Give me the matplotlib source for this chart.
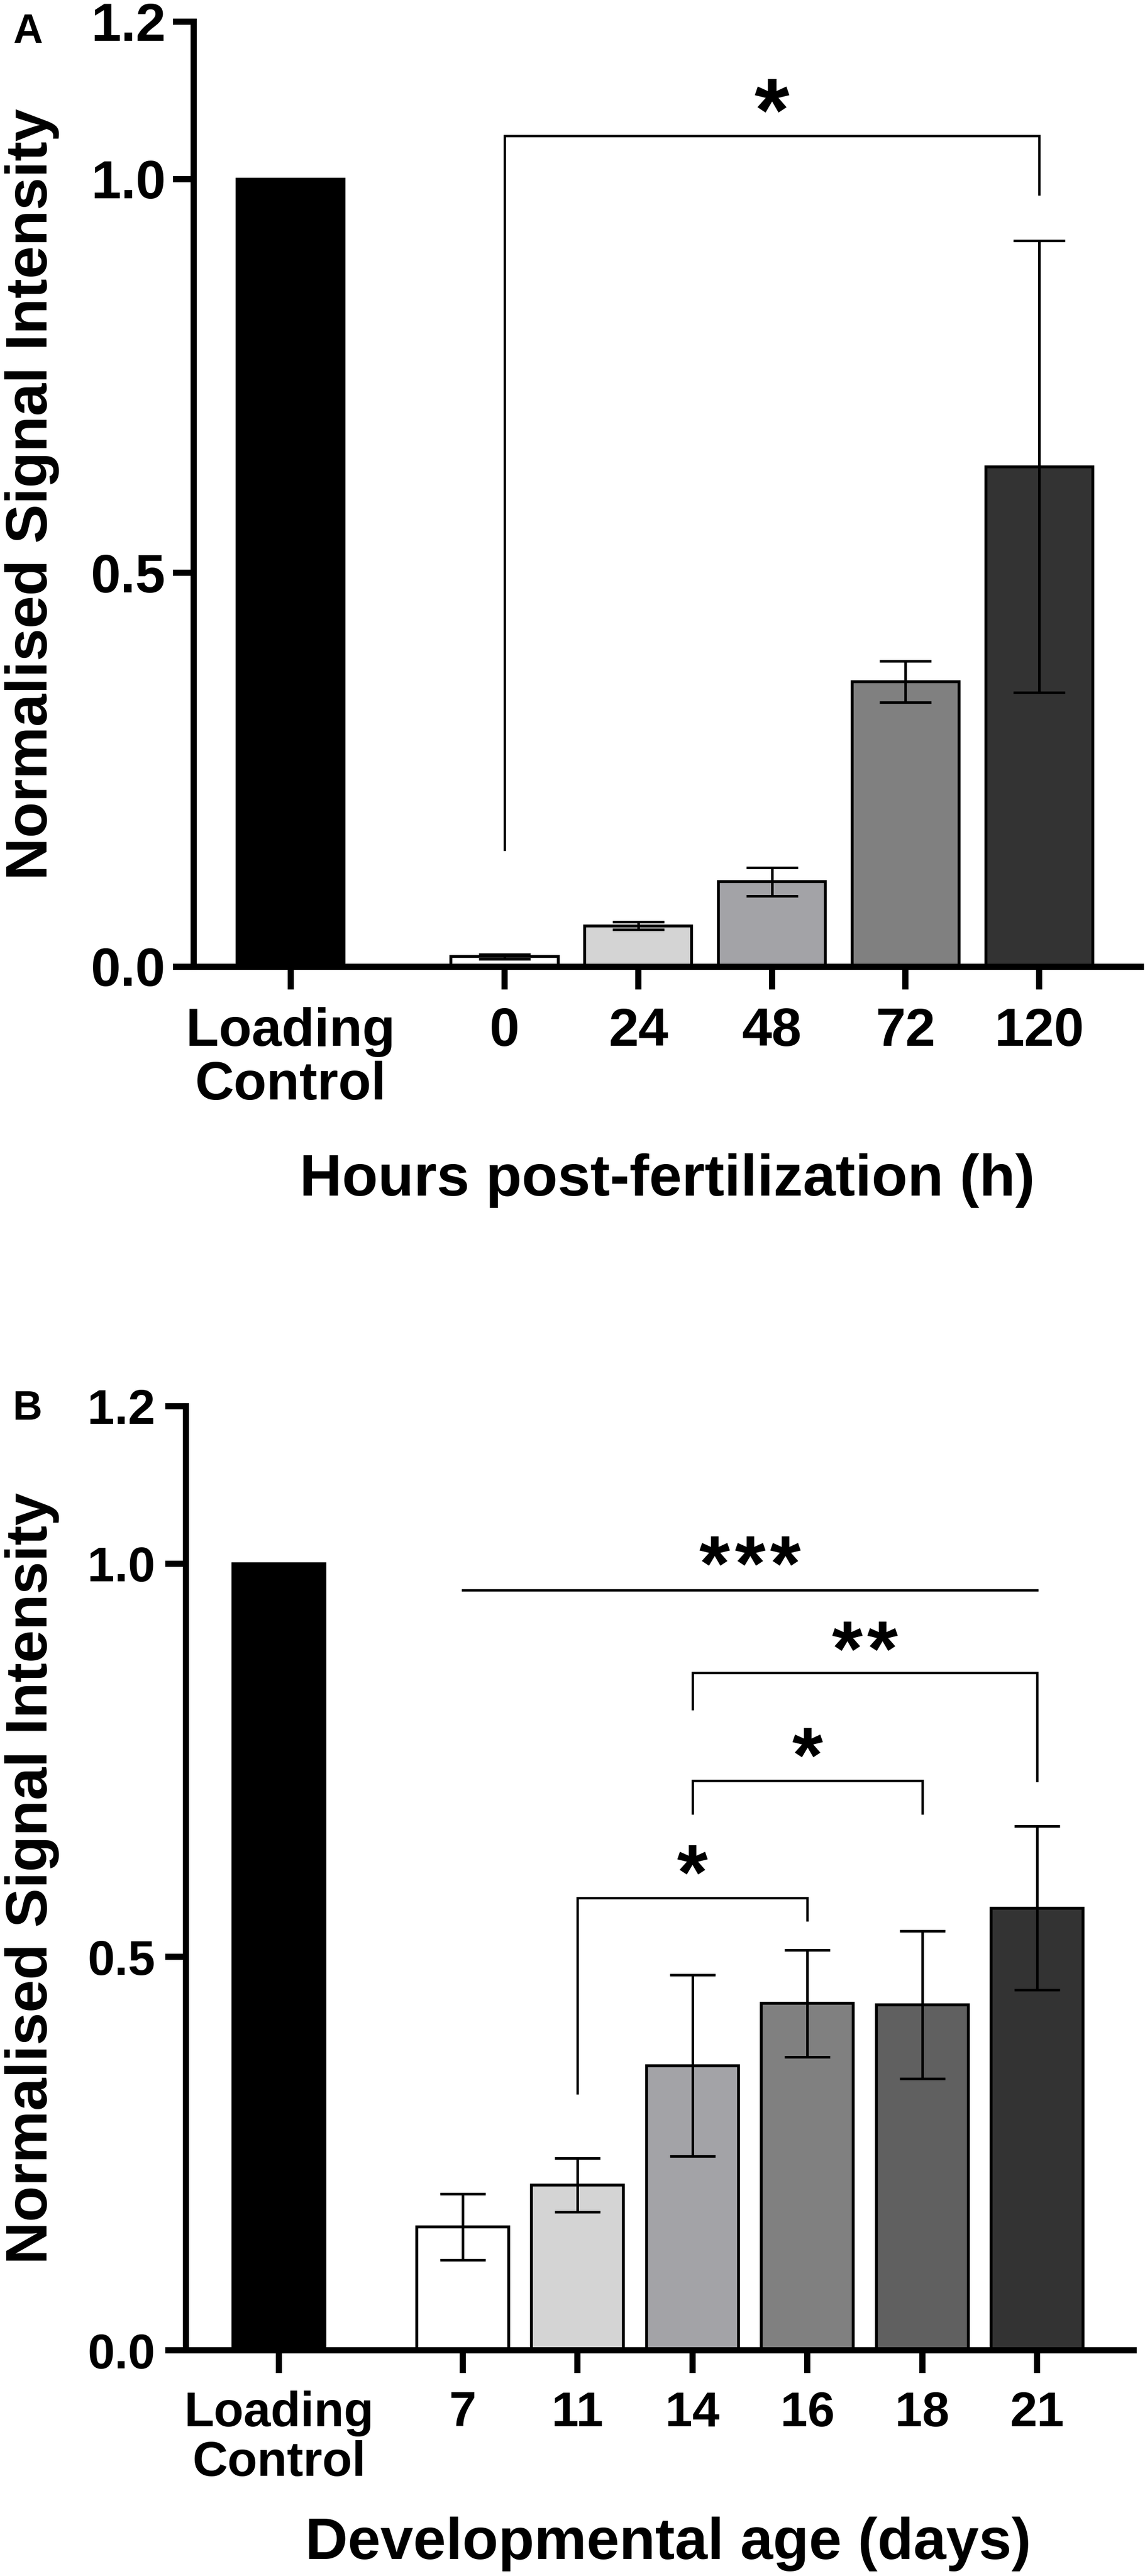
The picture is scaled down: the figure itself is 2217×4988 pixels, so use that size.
import numpy as np
import matplotlib
matplotlib.use("Agg")
import matplotlib.pyplot as plt

plt.rcParams['font.family'] = ['Liberation Sans', 'DejaVu Sans']
plt.rcParams['font.weight'] = 'bold'

# Panel A data
labels_a = ['Loading\nControl', '0', '24', '48', '72', '120']
means_a = [1.0, 0.013, 0.052, 0.108, 0.362, 0.635]
sem_a = [0.0, 0.003, 0.005, 0.018, 0.026, 0.287]
colors_a = ['#000000', '#ffffff', '#d4d4d4', '#a3a3a7', '#808080', '#333333']
# (left group, right group, top, left leg end, right leg end, stars, star centre)
sig_a = [(1, 5, 1.055, 0.149, 0.981, 1, 1.112)]

# Panel B data
labels_b = ['Loading\nControl', '7', '11', '14', '16', '18', '21']
means_b = [1.0, 0.157, 0.210, 0.362, 0.441, 0.439, 0.562]
sem_b = [0.0, 0.042, 0.034, 0.115, 0.068, 0.094, 0.104]
colors_b = ['#000000', '#ffffff', '#d4d4d4', '#a3a3a7', '#808080', '#606060', '#333333']
sig_b = [(1, 6, 0.966, 0.966, 0.966, 3, 1.022),
         (3, 6, 0.861, 0.815, 0.724, 2, 0.914),
         (3, 5, 0.724, 0.683, 0.683, 1, 0.779),
         (2, 4, 0.575, 0.327, 0.547, 1, 0.630)]

AX_LW = 8.6


def panel(ax, labels, means, sem, colors, sig, xlim, tick_fs, ytick_pad,
          capsize, star_fs, xlabel, xlabel_xy, ylabel_x):
    n = len(labels)
    x = np.r_[0.0, 1.6 + np.arange(n - 1)]
    ax.bar(x, means, width=0.8, color=colors, edgecolor='black',
           linewidth=4.0, zorder=2)
    ax.errorbar(x[1:], means[1:], yerr=sem[1:], fmt='none', ecolor='black',
                elinewidth=3.6, capsize=capsize, capthick=3.6, zorder=3)

    step = 0.45 * star_fs  # spacing between asterisks, points
    for i1, i2, top, yl, yr, nstar, yc in sig:
        xs = [x[i1], x[i1], x[i2], x[i2]]
        ys = [yl, top, top, yr]
        ax.plot(xs, ys, color='black', lw=3.3, solid_joinstyle='miter',
                zorder=3)
        for k in range(nstar):
            dx = (k - (nstar - 1) / 2) * step
            ax.annotate('*', xy=((x[i1] + x[i2]) / 2, yc),
                        xytext=(dx, -0.56 * star_fs),
                        textcoords='offset points', ha='center',
                        va='baseline', fontsize=star_fs, fontweight='bold')

    ax.set_xlim(*xlim)
    ax.set_ylim(0, 1.2)
    ax.set_yticks([0, 0.5, 1.0, 1.2])
    ax.set_yticklabels(['0.0', '0.5', '1.0', '1.2'])
    ax.set_xticks(x)
    ax.set_xticklabels(labels, linespacing=1.1)
    for sp in ['top', 'right']:
        ax.spines[sp].set_visible(False)
    for sp in ['left', 'bottom']:
        ax.spines[sp].set_linewidth(AX_LW)
    ax.tick_params(axis='y', direction='out', length=29, width=AX_LW,
                   labelsize=tick_fs, pad=ytick_pad)
    ax.tick_params(axis='x', direction='out', length=32, width=AX_LW,
                   labelsize=tick_fs, pad=24)
    for t in ax.get_xticklabels() + ax.get_yticklabels():
        t.set_fontweight('bold')

    ax.set_ylabel('Normalised Signal Intensity', fontsize=82,
                  fontweight='bold')
    ax.yaxis.set_label_coords(ylabel_x, 0.5)
    ax.set_xlabel(xlabel, fontsize=82, fontweight='bold')
    ax.xaxis.set_label_coords(*xlabel_xy)


fig = plt.figure(figsize=(22.17, 49.88), dpi=100)
ax_a = fig.add_axes([0.16915, 0.62470, 0.8272, 0.36688])
ax_b = fig.add_axes([0.16238, 0.08761, 0.8277, 0.36648])

panel(ax_a, labels_a, means_a, sem_a, colors_a, sig_a, (-0.726, 6.36),
      75, 10, 36, 125, 'Hours post-fertilization (h)', (0.5, -0.197),
      -0.142)
panel(ax_b, labels_b, means_b, sem_b, colors_b, sig_b, (-0.809, 7.44),
      68, 14, 32, 110, 'Developmental age (days)', (0.509, -0.176),
      -0.1335)

fig.text(25 / 2217, 1 - 83 / 4988, 'A', fontsize=57, fontweight='bold',
         va='baseline', ha='left')
fig.text(25 / 2217, 1 - 2749 / 4988, 'B', fontsize=57, fontweight='bold',
         va='baseline', ha='left')

fig.savefig('out.png', dpi=100, facecolor='white')
